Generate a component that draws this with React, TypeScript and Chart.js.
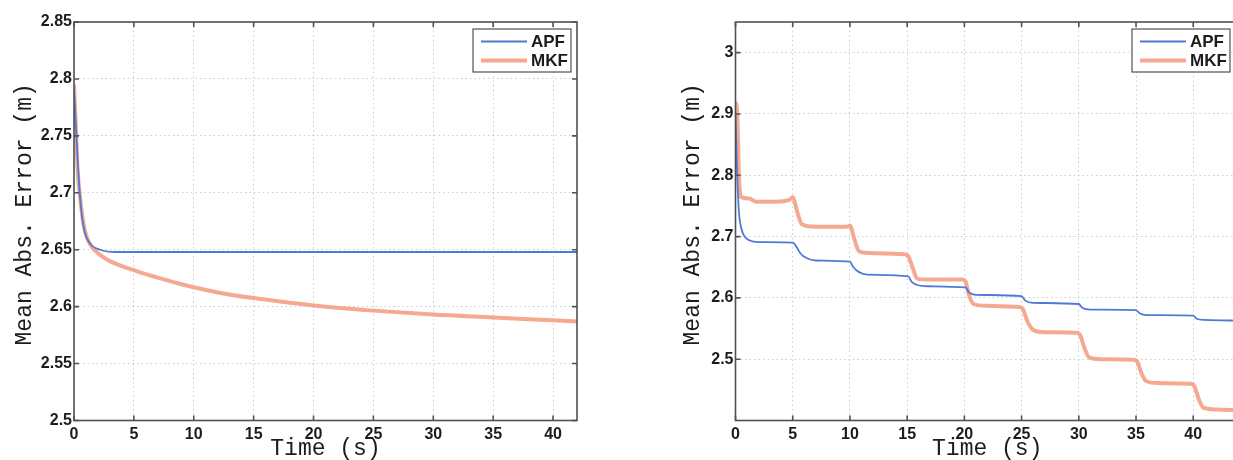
import { useEffect, useRef } from "react";
import { Chart, registerables } from "chart.js";

Chart.register(...registerables);

// ---- Series data ----
const seriesLabels = ["APF", "MKF"];
const xTitle = "Time (s)";
const yTitle = " Mean Abs. Error (m)";

// Left panel
const leftApfTime = [0, 0.25, 0.5, 0.8, 1.3, 2.2, 3.5, 42];
const leftApfError = [2.79, 2.74, 2.697, 2.67, 2.656, 2.65, 2.648, 2.648];
const leftMkfTime = [0, 0.15, 0.3, 0.5, 0.8, 1.1, 1.6, 2, 2.5, 3, 4, 5, 6, 7, 8.5, 10, 12, 15, 18, 20, 25, 30, 35, 40, 42];
const leftMkfError = [2.795, 2.76, 2.72, 2.697, 2.672, 2.66, 2.651, 2.647, 2.643, 2.64, 2.6355, 2.632, 2.6285, 2.6255, 2.621, 2.617, 2.6125, 2.6075, 2.6035, 2.601, 2.5965, 2.593, 2.5905, 2.588, 2.587];

// Right panel
const rightApfTime = [0, 0.15, 0.3, 0.5, 0.8, 1.2, 2, 5.0, 5.3, 5.7, 6.2, 7, 10.0, 10.3, 10.8, 11.5, 15.1, 15.4, 15.9, 16.8, 20.1, 20.4, 21, 25.0, 25.3, 26, 30.0, 30.3, 31, 35.0, 35.3, 36, 40.0, 40.3, 41, 44];
const rightApfError = [2.9, 2.8, 2.74, 2.714, 2.7, 2.694, 2.691, 2.69, 2.684, 2.672, 2.665, 2.661, 2.659, 2.65, 2.642, 2.638, 2.635, 2.626, 2.621, 2.619, 2.617, 2.609, 2.605, 2.603, 2.596, 2.592, 2.59, 2.584, 2.581, 2.58, 2.575, 2.572, 2.571, 2.566, 2.564, 2.563];
const rightMkfTime = [0, 0.15, 0.3, 0.45, 1.2, 1.8, 3.5, 4.7, 5.0, 5.4, 5.8, 7, 9.7, 10.0, 10.4, 10.8, 12, 14.8, 15.1, 15.5, 15.9, 17, 19.8, 20.1, 20.4, 20.8, 22, 24.8, 25.1, 25.5, 26, 27, 29.8, 30.1, 30.5, 30.9, 32, 34.8, 35.1, 35.5, 35.9, 37, 39.8, 40.1, 40.5, 40.9, 42, 44];
const rightMkfError = [2.92, 2.9, 2.8, 2.765, 2.762, 2.757, 2.757, 2.76, 2.764, 2.74, 2.72, 2.716, 2.716, 2.718, 2.695, 2.676, 2.673, 2.671, 2.668, 2.648, 2.631, 2.63, 2.63, 2.627, 2.605, 2.59, 2.587, 2.585, 2.582, 2.562, 2.548, 2.544, 2.543, 2.54, 2.518, 2.503, 2.5, 2.499, 2.496, 2.476, 2.464, 2.461, 2.46, 2.456, 2.434, 2.421, 2.418, 2.417];

// ---- Axes ----
const leftXTicks = [0, 5, 10, 15, 20, 25, 30, 35, 40];
const leftXRange = [0, 42];
const leftYTicks = [2.5, 2.55, 2.6, 2.65, 2.7, 2.75, 2.8, 2.85];
const leftYRange = [2.5, 2.85];

const rightXTicks = [0, 5, 10, 15, 20, 25, 30, 35, 40];
const rightXRange = [0, 44];
const rightYTicks = [2.5, 2.6, 2.7, 2.8, 2.9, 3];
const rightYRange = [2.4, 3.05];

const apfColor = "#5079d6";
const mkfColor = "rgba(243,160,132,0.9)";
const boxColor = "#4d5258";
const textColor = "#1c1c1c";
const sansFont = "'Liberation Sans', Arial, sans-serif";
const monoFont = "'Liberation Mono', 'DejaVu Sans Mono', monospace";

const toPoints = (xs: number[], ys: number[]) => xs.map((x, i) => ({ x, y: ys[i] }));

// Axis box with inward ticks on all four sides, plus a boxed legend in the top-right corner.
const framePlugin = {
  id: "frameAndLegend",
  afterDatasetsDraw(chart: any) {
    const { ctx, chartArea: a, scales } = chart;
    const tl = 5;
    ctx.save();
    ctx.strokeStyle = boxColor;
    ctx.lineWidth = 1.6;
    ctx.strokeRect(a.left, a.top, a.right - a.left, a.bottom - a.top);
    ctx.beginPath();
    for (const t of scales.x.ticks) {
      const px = scales.x.getPixelForValue(t.value);
      ctx.moveTo(px, a.bottom);
      ctx.lineTo(px, a.bottom - tl);
      ctx.moveTo(px, a.top);
      ctx.lineTo(px, a.top + tl);
    }
    for (const t of scales.y.ticks) {
      const py = scales.y.getPixelForValue(t.value);
      ctx.moveTo(a.left, py);
      ctx.lineTo(a.left + tl, py);
      ctx.moveTo(a.right, py);
      ctx.lineTo(a.right - tl, py);
    }
    ctx.stroke();

    // legend
    const lg = chart.options.plugins.frameAndLegend;
    const bw = 98;
    const bh = 43;
    const bx = a.right - lg.rightGap - bw;
    const by = a.top + 7;
    ctx.fillStyle = "#ffffff";
    ctx.fillRect(bx, by, bw, bh);
    ctx.lineWidth = 1.2;
    ctx.strokeStyle = boxColor;
    ctx.strokeRect(bx, by, bw, bh);
    const rows = [12.5, 31.5];
    chart.data.datasets.forEach((ds: any, i: number) => {
      const y = by + rows[i];
      ctx.beginPath();
      ctx.strokeStyle = ds.borderColor;
      ctx.lineWidth = ds.borderWidth;
      ctx.moveTo(bx + 8, y);
      ctx.lineTo(bx + 54, y);
      ctx.stroke();
      ctx.fillStyle = textColor;
      ctx.font = `bold 17px ${sansFont}`;
      ctx.textBaseline = "middle";
      ctx.textAlign = "left";
      ctx.fillText(ds.label, bx + 58, y + 1);
    });
    ctx.restore();
  },
};

type PanelSpec = {
  apf: { x: number; y: number }[];
  mkf: { x: number; y: number }[];
  xTicks: number[];
  xRange: number[];
  yTicks: number[];
  yRange: number[];
  yAxisWidth: number;
  yTitlePad: number;
  rightPad: number;
  legendGap: number;
};

function buildConfig(p: PanelSpec): any {
  const gridStyle = {
    color: "rgba(150,165,190,0.55)",
    lineWidth: 1,
    drawTicks: false,
  };
  return {
    type: "line",
    data: {
      datasets: [
        {
          label: seriesLabels[0],
          data: p.apf,
          borderColor: apfColor,
          borderWidth: 1.8,
          pointRadius: 0,
          cubicInterpolationMode: "monotone",
        },
        {
          label: seriesLabels[1],
          data: p.mkf,
          borderColor: mkfColor,
          borderWidth: 4,
          pointRadius: 0,
          cubicInterpolationMode: "monotone",
        },
      ],
    },
    options: {
      animation: false,
      responsive: false,
      layout: { padding: { left: 0, top: 22, right: p.rightPad, bottom: 0 } },
      plugins: {
        legend: { display: false },
        tooltip: { enabled: false },
        frameAndLegend: { rightGap: p.legendGap },
      },
      scales: {
        x: {
          type: "linear",
          min: p.xRange[0],
          max: p.xRange[1],
          afterBuildTicks: (s: any) => {
            s.ticks = p.xTicks.map((value) => ({ value }));
          },
          afterFit: (s: any) => {
            s.height = 39.5;
          },
          grid: gridStyle,
          border: { display: false, dash: [1.5, 3] },
          ticks: {
            autoSkip: false,
            maxRotation: 0,
            padding: 4,
            color: textColor,
            font: { family: sansFont, size: 16, weight: "bold" },
            callback: (v: number) => String(v),
          },
          title: {
            display: true,
            text: xTitle,
            color: textColor,
            font: { family: monoFont, size: 23, lineHeight: 1 },
            padding: { top: 0, bottom: 0 },
          },
        },
        y: {
          type: "linear",
          min: p.yRange[0],
          max: p.yRange[1],
          afterBuildTicks: (s: any) => {
            s.ticks = p.yTicks.map((value) => ({ value }));
          },
          afterFit: (s: any) => {
            s.width = p.yAxisWidth;
          },
          grid: gridStyle,
          border: { display: false, dash: [1.5, 3] },
          ticks: {
            autoSkip: false,
            padding: 2,
            color: textColor,
            font: { family: sansFont, size: 16, weight: "bold" },
            callback: (v: number) => String(v),
          },
          title: {
            display: true,
            text: yTitle,
            color: textColor,
            font: { family: monoFont, size: 23, lineHeight: 1 },
            padding: { top: p.yTitlePad, bottom: 0 },
          },
        },
      },
    },
    plugins: [framePlugin],
  };
}

function Panel({ spec, left, width }: { spec: PanelSpec; left: number; width: number }) {
  const ref = useRef<HTMLCanvasElement | null>(null);
  useEffect(() => {
    if (!ref.current) return;
    const chart = new Chart(ref.current, buildConfig(spec));
    return () => chart.destroy();
  }, [spec]);
  return (
    <canvas
      ref={ref}
      width={width}
      height={460}
      style={{ position: "absolute", left, top: 0, width, height: 460 }}
    />
  );
}

const leftSpec: PanelSpec = {
  apf: toPoints(leftApfTime, leftApfError),
  mkf: toPoints(leftMkfTime, leftMkfError),
  xTicks: leftXTicks,
  xRange: leftXRange,
  yTicks: leftYTicks,
  yRange: leftYRange,
  yAxisWidth: 74,
  yTitlePad: 13.5,
  rightPad: 23,
  legendGap: 6,
};

const rightSpec: PanelSpec = {
  apf: toPoints(rightApfTime, rightApfError),
  mkf: toPoints(rightMkfTime, rightMkfError),
  xTicks: rightXTicks,
  xRange: rightXRange,
  yTicks: rightYTicks,
  yRange: rightYRange,
  yAxisWidth: 95.5,
  yTitlePad: 41.5,
  rightPad: 1,
  legendGap: 9,
};

export default function App() {
  return (
    <div
      style={{
        position: "fixed",
        left: 0,
        top: 0,
        width: 1233,
        height: 460,
        overflow: "hidden",
        background: "#ffffff",
      }}
    >
      <Panel spec={leftSpec} left={0} width={600} />
      <Panel spec={rightSpec} left={640} width={600} />
    </div>
  );
}
